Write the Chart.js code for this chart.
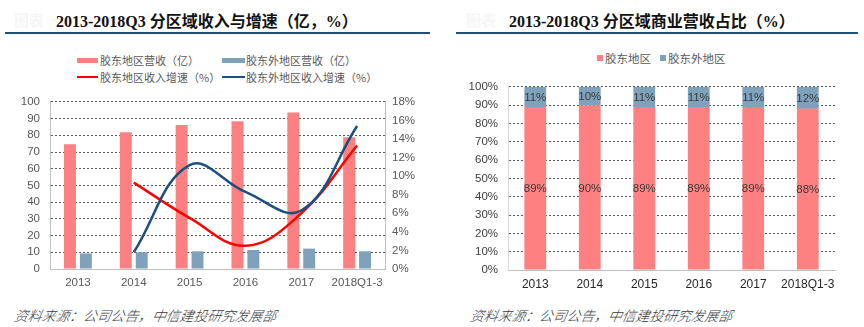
<!DOCTYPE html>
<html><head><meta charset="utf-8">
<script src="https://cdn.jsdelivr.net/npm/chart.js@4/dist/chart.umd.min.js"></script>
<style>
html,body{margin:0;padding:0;background:#fff;}
#page{position:relative;width:864px;height:327px;overflow:hidden;background:#fff;font-family:"Liberation Sans","Noto Sans CJK SC",sans-serif;}
.abs{position:absolute;}
.title{font-family:"Liberation Serif","Noto Sans CJK SC",serif;font-weight:bold;font-size:16px;color:#111;white-space:nowrap;}
.faint{color:#f6f6f6;font-family:"Noto Sans CJK SC";font-weight:bold;font-size:15px;}
.rule{height:2px;background:#1F4E79;}
.leg{font-family:"Noto Sans CJK SC",sans-serif;font-size:11px;color:#595959;white-space:nowrap;line-height:14px;}
.src{font-family:"Noto Sans CJK SC",serif;font-style:italic;font-size:13.8px;font-weight:300;color:#3a3a3a;white-space:nowrap;transform:skewX(-10deg);transform-origin:left top;line-height:16px;}
</style></head>
<body><div id="page">
<div class="abs faint" style="left:14px;top:9px;">图表</div>
<div class="abs title" style="left:56px;top:8px;">2013-2018Q3 分区域收入与增速（亿，%）</div>
<div class="abs rule" style="left:5px;top:32px;width:425px;"></div>
<div class="abs faint" style="left:466px;top:9px;">图表</div>
<div class="abs title" style="left:509px;top:8px;">2013-2018Q3 分区域商业营收占比（%）</div>
<div class="abs rule" style="left:456px;top:32px;width:402px;"></div>

<!-- left legend -->
<div class="abs" style="left:77px;top:58px;width:21px;height:5px;background:#FF8080;"></div>
<div class="abs leg" style="left:100px;top:53px;">胶东地区营收（亿）</div>
<div class="abs" style="left:222px;top:58px;width:23px;height:5px;background:#7FA2BC;"></div>
<div class="abs leg" style="left:246px;top:53px;">胶东外地区营收（亿）</div>
<div class="abs" style="left:77px;top:76px;width:21px;height:2px;background:#FF0000;"></div>
<div class="abs leg" style="left:100px;top:70px;">胶东地区收入增速（%）</div>
<div class="abs" style="left:222px;top:76px;width:23px;height:2px;background:#1B4F80;"></div>
<div class="abs leg" style="left:246px;top:70px;">胶东外地区收入增速（%）</div>

<!-- right legend -->
<div class="abs" style="left:597px;top:55px;width:6px;height:6px;background:#FF8080;"></div>
<div class="abs leg" style="left:605px;top:51px;font-size:11.5px;">胶东地区</div>
<div class="abs" style="left:660px;top:55px;width:6px;height:6px;background:#7FA2BC;"></div>
<div class="abs leg" style="left:668px;top:51px;font-size:11.5px;">胶东外地区</div>

<div class="abs" style="left:0;top:85px;width:432px;height:210px;"><canvas id="c1" width="432" height="210"></canvas></div>
<div class="abs" style="left:432px;top:70px;width:432px;height:225px;"><canvas id="c2" width="432" height="225"></canvas></div>

<div class="abs src" style="left:16px;top:307px;">资料来源：公司公告，中信建投研究发展部</div>
<div class="abs src" style="left:472px;top:307px;">资料来源：公司公告，中信建投研究发展部</div>
</div>
<script>
const categories = ['2013','2014','2015','2016','2017','2018Q1-3'];
const jiaodongRevenue = [74.6, 81.8, 86.2, 88.4, 93.6, 78.8];
const outsideRevenue = [9.3, 10.0, 10.6, 11.4, 12.2, 10.6];
const jiaodongGrowth = [null, 9.3, 5.5, 2.5, 6.0, 13.3];
const outsideGrowth = [null, 1.8, 11.2, 8.3, 6.3, 15.4];
const jiaodongShare = [89, 90, 89, 89, 89, 88];
const outsideShare = [11, 10, 11, 11, 11, 12];
const leftTicks = [0,10,20,30,40,50,60,70,80,90,100];
const rightTicks = [0,2,4,6,8,10,12,14,16,18];
const shareTicks = [0,10,20,30,40,50,60,70,80,90,100];

const RED_BAR = '#FF8080', BLUE_BAR = '#7FA2BC', RED_LINE = '#FF0000', BLUE_LINE = '#1B4F80';
const tickFont = {family:'"Liberation Sans", Arial, sans-serif', size:11.5};
Chart.defaults.animation = false;

new Chart(document.getElementById('c1'), {
  data: {
    labels: categories,
    datasets: [
      {type:'line', data: outsideGrowth, yAxisID:'y1', borderColor: BLUE_LINE, borderWidth:2.5, tension:0.4, pointRadius:0, fill:false, order:0},
      {type:'line', data: jiaodongGrowth, yAxisID:'y1', borderColor: RED_LINE, borderWidth:2.5, tension:0.4, pointRadius:0, fill:false, order:1},
      {type:'bar', data: jiaodongRevenue, yAxisID:'y', backgroundColor: RED_BAR, categoryPercentage:0.57, barPercentage:0.75, order:2},
      {type:'bar', data: outsideRevenue, yAxisID:'y', backgroundColor: BLUE_BAR, categoryPercentage:0.57, barPercentage:0.75, order:3}
    ]
  },
  options: {
    responsive:false, maintainAspectRatio:false,
    layout:{padding:{top:12,left:0,right:0,bottom:0}},
    plugins:{legend:{display:false}, tooltip:{enabled:false}},
    scales:{
      x:{grid:{display:false, drawTicks:false}, border:{color:'#BFBFBF'},
         ticks:{color:'#595959', font:tickFont, padding:7, maxRotation:0, autoSkip:false},
         afterFit(s){s.height=26;}},
      y:{position:'left', min:0, max:100,
         afterBuildTicks(s){s.ticks = leftTicks.map(v=>({value:v}));},
         grid:{color:'#595959', drawTicks:false, lineWidth:1}, border:{color:'#BFBFBF', dash:[2,2]},
         ticks:{color:'#595959', font:tickFont, padding:10, autoSkip:false, stepSize:10},
         afterFit(s){s.width=50;}},
      y1:{position:'right', min:0, max:18,
         afterBuildTicks(s){s.ticks = rightTicks.map(v=>({value:v}));},
         grid:{display:false, drawTicks:false}, border:{color:'#BFBFBF'},
         ticks:{color:'#595959', font:tickFont, padding:7, autoSkip:false, stepSize:2, callback:v=>v+'%'},
         afterFit(s){s.width=47;}}
    }
  }
});

const labelPlugin = {
  id:'barLabels',
  afterDatasetsDraw(chart){
    const ctx = chart.ctx;
    ctx.save();
    ctx.font = '11.5px "Liberation Sans", Arial, sans-serif';
    ctx.fillStyle = '#3a3a3a';
    ctx.textAlign='center'; ctx.textBaseline='middle';
    chart.data.datasets.forEach((ds,i)=>{
      const meta = chart.getDatasetMeta(i);
      meta.data.forEach((bar,j)=>{
        const p = bar.getProps(['x','y','base'], true);
        ctx.fillText(ds.data[j]+'%', p.x, (p.y+p.base)/2+1);
      });
    });
    ctx.restore();
  }
};

new Chart(document.getElementById('c2'), {
  type:'bar',
  data:{
    labels: categories,
    datasets:[
      {data: jiaodongShare, backgroundColor: RED_BAR, categoryPercentage:0.4, barPercentage:1},
      {data: outsideShare, backgroundColor: BLUE_BAR, categoryPercentage:0.4, barPercentage:1}
    ]
  },
  options:{
    responsive:false, maintainAspectRatio:false,
    layout:{padding:{top:12,left:0,right:29,bottom:0}},
    plugins:{legend:{display:false}, tooltip:{enabled:false}},
    scales:{
      x:{stacked:true, grid:{display:false, drawTicks:false}, border:{color:'#BFBFBF'},
         ticks:{color:'#262626', font:{family:'"Liberation Sans Narrow","Liberation Sans",Arial,sans-serif', size:12}, padding:7, maxRotation:0, autoSkip:false},
         afterFit(s){s.height=25;}},
      y:{stacked:true, min:0, max:100,
         afterBuildTicks(s){s.ticks = shareTicks.map(v=>({value:v}));},
         grid:{color:'#595959', drawTicks:false, lineWidth:1}, border:{color:'#D9D9D9', dash:[2,2]},
         ticks:{color:'#404040', font:tickFont, padding:10, autoSkip:false, stepSize:10, callback:v=>v+'%'},
         afterFit(s){s.width=76;}}
    }
  },
  plugins:[labelPlugin]
});
</script>
</body></html>
